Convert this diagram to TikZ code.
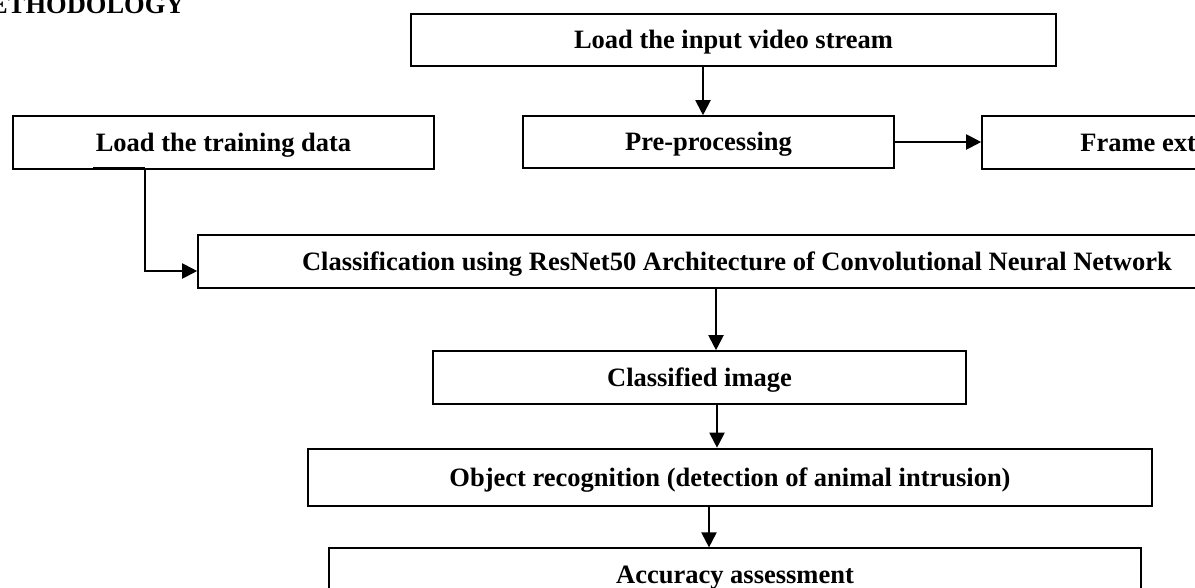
\documentclass[tikz,border=0pt]{standalone}
\usepackage{fontspec}
\setmainfont{Liberation Serif}
\usetikzlibrary{arrows.meta}
\begin{document}
\begin{tikzpicture}[x=1pt, y=-1pt,
  every node/.style={font=\fontsize{26.5}{30}\selectfont\bfseries},
  stage/.style={draw, rectangle, line width=1.6pt, inner sep=0pt,
                text height=17.5pt, text depth=0pt},
  flow/.style={line width=2pt, -{Triangle[length=15pt, width=15pt]}},
]
\clip (0,0) rectangle (1195,587);

% heading
\node[anchor=base west, inner sep=0pt] (title) at (-10,13) {ETHODOLOGY};

% stages
\node[stage, minimum width=645pt, minimum height=52pt] (video) at (733.5,40) {Load the input video stream};
\node[stage, minimum width=421pt, minimum height=53pt] (train) at (223.5,142.5) {Load the training data};
\node[stage, minimum width=371pt, minimum height=52pt] (pre) at (708.5,142) {Pre-processing};
\node[stage, minimum width=400pt, minimum height=53pt] (frame) at (1182,142.5) {};
\node[anchor=west, inner sep=0pt, text height=17.5pt, text depth=0pt] (frametext) at ([xshift=99pt]frame.west) {Frame ext};
\node[stage, minimum width=1078pt, minimum height=53pt] (cls) at (737,261.5) {Classification using ResNet50 Architecture of Convolutional Neural Network};
\node[stage, minimum width=533pt, minimum height=53pt] (img) at (699.5,377.5) {Classified image};
\node[stage, line width=2.6pt, minimum width=844pt, minimum height=57pt] (obj) at (730,477.5) {Object recognition (detection of animal intrusion)};
\node[stage, line width=1.2pt, minimum width=812pt, minimum height=54pt] (acc) at (735,575) {Accuracy assessment};

% connectors
\draw[flow] ([xshift=-30.5pt]video.south) -- ([xshift=-5.5pt]pre.north);
\draw[flow] (pre.east) -- (frame.west |- pre.east);
\draw[line width=2.5pt] ([xshift=-130.5pt, yshift=1.5pt]train.south) -- ([xshift=-78.5pt, yshift=1.5pt]train.south);
\draw[flow] ([xshift=-78.5pt]train.south) |- ([yshift=-9.5pt]cls.west);
\draw[flow] ([xshift=-21pt]cls.south) -- ([xshift=16.5pt]img.north);
\draw[flow] ([xshift=17.5pt]img.south) -- ([xshift=-13pt]obj.north);
\draw[flow] ([xshift=-21pt]obj.south) -- ([xshift=-26pt]acc.north);
\end{tikzpicture}
\end{document}
